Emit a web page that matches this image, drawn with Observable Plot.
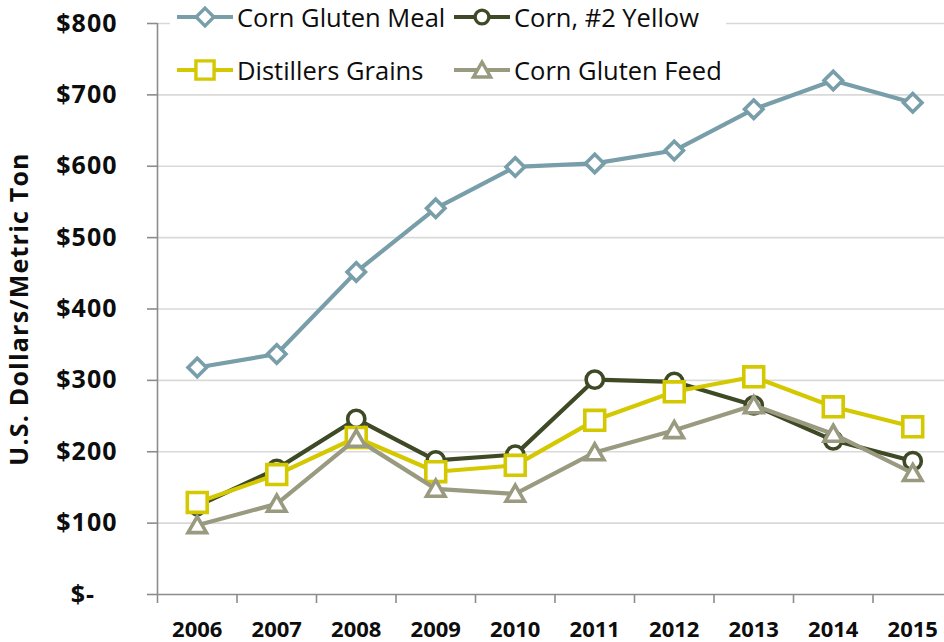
<!DOCTYPE html>
<html><head><meta charset="utf-8">
<script src="https://cdn.jsdelivr.net/npm/d3@7"></script>
<script src="https://cdn.jsdelivr.net/npm/@observablehq/plot@0.6"></script>
<style>
body{margin:0;background:#fff;overflow:hidden}
#wrap{position:relative;width:944px;height:642px;overflow:hidden}
#legendbox{position:absolute;left:170px;top:0;width:556px;height:88px;background:#fff}
.item{position:absolute;display:flex;align-items:center;height:34px;font-family:"Open Sans",sans-serif;font-size:25.5px;font-weight:500;color:#0d0d0d;white-space:nowrap}
.item svg{display:block;margin-right:4px}
svg [aria-label="y-axis tick label"] text{letter-spacing:1px}
svg [aria-label="y-axis label"] text{letter-spacing:1.2px}
</style></head>
<body><div id="wrap"></div>
<script>
const years = [2006, 2007, 2008, 2009, 2010, 2011, 2012, 2013, 2014, 2015];
const seriesNames = ["Corn Gluten Meal", "Corn, #2 Yellow", "Distillers Grains", "Corn Gluten Feed"];
const cornGlutenMeal   = [318, 337, 452, 541, 599, 604, 622, 680, 720, 689];
const corn2Yellow      = [124, 176, 246, 188, 196, 301, 298, 265, 216, 187];
const distillersGrains = [129, 168, 220, 172, 181, 244, 284, 305, 263, 235];
const cornGlutenFeed   = [ 97, 127, 218, 148, 141, 199, 230, 265, 225, 170];
const yTicks = [0, 100, 200, 300, 400, 500, 600, 700, 800];

const seriesValues = [cornGlutenMeal, corn2Yellow, distillersGrains, cornGlutenFeed];
const colors = ["#789ea9", "#3e4a25", "#d4c800", "#9a9a80"];
const symbols = ["diamond2", "circle", "square", "triangle2"];
const radii = [8.3, 8.6, 11.2, 8.8];

const rows = [];
seriesNames.forEach((name, i) => seriesValues[i].forEach((v, j) => rows.push({series: name, year: years[j], value: v})));
const boundaries = years.map(y => y - 0.5).concat([years[years.length - 1] + 0.5]);

const seriesMarks = seriesNames.flatMap((name, i) => {
  const data = rows.filter(r => r.series === name);
  return [
    Plot.line(data, {x: "year", y: "value", stroke: colors[i], strokeWidth: 4.2}),
    Plot.dot(data, {x: "year", y: "value", symbol: symbols[i], r: radii[i], stroke: colors[i], strokeWidth: 3.6, fill: "white", dy: symbols[i] === "triangle2" ? 2 : 0})
  ];
});

const chart = Plot.plot({
  width: 944, height: 642,
  marginLeft: 157, marginRight: 0, marginTop: 23, marginBottom: 48,
  x: {type: "linear", domain: [years[0] - 0.5, years[years.length - 1] + 0.5], range: [157, 952]},
  y: {domain: [0, 800]},
  style: {fontFamily: "Open Sans", background: "white", color: "#0d0d0d"},
  marks: [
    Plot.ruleY(yTicks.filter(d => d > 0), {stroke: "#d9d9d9", strokeWidth: 1.6}),
    Plot.ruleY([0], {stroke: "#8c8c8c", strokeWidth: 1.6}),
    Plot.ruleX([years[0] - 0.5], {y1: 0, y2: 800, stroke: "#8c8c8c", strokeWidth: 1.6}),
    Plot.axisY({ticks: yTicks, tickSize: 10, tickPadding: 30, stroke: "#8c8c8c", strokeWidth: 1.6,
      tickFormat: d => d === 0 ? "$-\u00a0\u00a0\u00a0" : "$" + d,
      fontSize: 25, fontWeight: "bold", fill: "#0d0d0d",
      label: "U.S. Dollars/Metric Ton", labelArrow: "none", labelAnchor: "center", labelOffset: 147}),
    Plot.axisX({ticks: boundaries, tickSize: 9, tickFormat: () => "", stroke: "#8c8c8c", strokeWidth: 1.6, label: null}),
    Plot.axisX({ticks: years, tickSize: 0, tickPadding: 27, tickFormat: d => String(d), fontSize: 22, fontWeight: "bold", fill: "#0d0d0d", label: null}),
    ...seriesMarks
  ]
});

const wrap = document.getElementById("wrap");
wrap.appendChild(chart);

// Legend (HTML overlay inside the plot area, like the original)
const box = document.createElement("div");
box.id = "legendbox";
wrap.appendChild(box);
const legendPos = [[177, 0], [454, 0], [177, 53], [454, 53]];
const legendSym = {diamond2: d3.symbolDiamond2, circle: d3.symbolCircle, square: d3.symbolSquare, triangle2: d3.symbolTriangle2};
const legendSize = [200, 150, 330, 210];
seriesNames.forEach((name, i) => {
  const it = document.createElement("div");
  it.className = "item";
  it.style.left = legendPos[i][0] + "px";
  it.style.top = legendPos[i][1] + "px";
  const svg = d3.create("svg").attr("width", 56).attr("height", 34);
  svg.append("line").attr("x1", 0).attr("x2", 56).attr("y1", 17).attr("y2", 17)
    .attr("stroke", colors[i]).attr("stroke-width", 4.2);
  svg.append("path").attr("d", d3.symbol(legendSym[symbols[i]], legendSize[i])())
    .attr("transform", `translate(28,${symbols[i] === "triangle2" ? 19 : 17})`)
    .attr("fill", "white").attr("stroke", colors[i]).attr("stroke-width", 3.4);
  it.appendChild(svg.node());
  const t = document.createElement("span");
  t.textContent = name;
  it.appendChild(t);
  wrap.appendChild(it);
});
</script>
</body></html>
